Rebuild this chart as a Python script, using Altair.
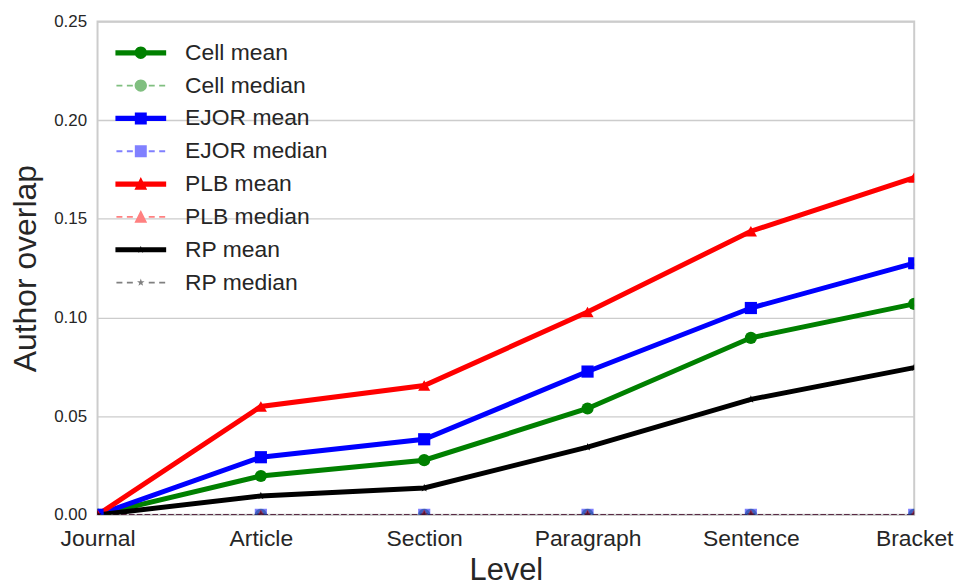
import math
import altair as alt
import pandas as pd

# ---------------- data ----------------
levels = ["Journal", "Article", "Section", "Paragraph", "Sentence", "Bracket"]

cell_mean = [0.0, 0.0197, 0.0277, 0.0539, 0.0897, 0.1069]
cell_median = [0.0, 0.0, 0.0, 0.0, 0.0, 0.0]
ejor_mean = [0.0, 0.0292, 0.0383, 0.0726, 0.1048, 0.1275]
ejor_median = [0.0, 0.0, 0.0, 0.0, 0.0, 0.0]
plb_mean = [0.0, 0.0549, 0.0655, 0.1028, 0.1437, 0.1709]
plb_median = [0.0, 0.0, 0.0, 0.0, 0.0, 0.0]
rp_mean = [0.0, 0.0096, 0.0136, 0.0343, 0.0585, 0.0746]
rp_median = [0.0, 0.0, 0.0, 0.0, 0.0, 0.0]

series_names = ["Cell mean", "Cell median", "EJOR mean", "EJOR median",
                "PLB mean", "PLB median", "RP mean", "RP median"]
series_values = [cell_mean, cell_median, ejor_mean, ejor_median,
                 plb_mean, plb_median, rp_mean, rp_median]

y_ticks = [0.0, 0.05, 0.10, 0.15, 0.20, 0.25]

# ---------------- styles ----------------
base_colors = {"Cell": "#008000", "EJOR": "#0000ff", "PLB": "#ff0000", "RP": "#000000"}
light_colors = {"Cell": "#80bf80", "EJOR": "#8080ff", "PLB": "#ff8080", "RP": "#808080"}
TXT = "#262626"
GRID = "#cccccc"


def star_path(r_out, r_in):
    pts = []
    for k in range(10):
        r = r_out if k % 2 == 0 else r_in
        a = -math.pi / 2 + k * math.pi / 5
        pts.append((r * math.cos(a), r * math.sin(a)))
    return "M" + " L".join(f"{x:.3f},{y:.3f}" for x, y in pts) + " Z"


def circle_path(r):
    return f"M{r},0 A{r},{r} 0 1,1 {-r},0 A{r},{r} 0 1,1 {r},0 Z"


def square_path(h):
    return f"M{-h},{-h} L{h},{-h} L{h},{h} L{-h},{h} Z"


def tri_path(h):
    return f"M0,{-h*1.1:.3f} L{h:.3f},{h*0.9:.3f} L{-h:.3f},{h*0.9:.3f} Z"


def rect(x0, x1, t):
    return f"M{x0},{-t} L{x1},{-t} L{x1},{t} L{x0},{t} Z"


marker_main = {"Cell": "circle", "EJOR": "square", "PLB": "triangle-up",
               "RP": star_path(0.7, 0.28)}
marker_leg = {"Cell": circle_path(0.62), "EJOR": square_path(0.6),
              "PLB": tri_path(0.64), "RP": star_path(0.4, 0.16)}


def legend_symbol(group, kind):
    if kind == "mean":
        line = rect(-2.55, 2.55, 0.26)
    else:
        line = " ".join([rect(-2.45, -1.85, 0.09), rect(-1.4, -0.8, 0.09),
                         rect(0.8, 1.4, 0.09), rect(1.85, 2.45, 0.09)])
    return line + " " + marker_leg[group]


groups = [s.split()[0] for s in series_names]
kinds = [s.split()[1] for s in series_names]

color_range = [base_colors[g] for g in groups]
shape_range = [marker_main[g] for g in groups]
leg_color_range = [base_colors[g] if k == "mean" else light_colors[g]
                   for g, k in zip(groups, kinds)]
leg_shape_range = [legend_symbol(g, k) for g, k in zip(groups, kinds)]

rows = []
for name, vals in zip(series_names, series_values):
    for lvl, v in zip(levels, vals):
        rows.append({"level": lvl, "series": name, "value": v,
                     "kind": name.split()[1]})
df = pd.DataFrame(rows)

x_enc = alt.X("level:N", sort=levels,
              scale=alt.Scale(type="point", padding=0),
              axis=alt.Axis(title="Level", labelAngle=0, labelFontSize=23,
                            titleFontSize=31, labelPadding=13, titlePadding=5,
                            ticks=False, domain=False, labelColor=TXT,
                            titleColor=TXT, titleFontWeight="normal",
                            gridColor=GRID, gridWidth=1.4))
y_enc = alt.Y("value:Q",
              scale=alt.Scale(domain=[0, 0.25], nice=False),
              axis=alt.Axis(title="Author overlap", values=y_ticks, format=".2f",
                            labelFontSize=17, titleFontSize=32, labelPadding=11,
                            titlePadding=11, ticks=False, domain=False,
                            labelColor=TXT, titleColor=TXT,
                            titleFontWeight="normal", gridColor=GRID,
                            gridWidth=1.4))
col_enc = alt.Color("series:N", scale=alt.Scale(domain=series_names, range=color_range),
                    legend=None)
shape_enc = alt.Shape("series:N", scale=alt.Scale(domain=series_names, range=shape_range),
                      legend=None)

median_df = df[df["kind"] == "median"]
mean_df = df[df["kind"] == "mean"]

median_lines = alt.Chart(median_df).mark_line(
    strokeDash=[5.5, 2.4], strokeWidth=1.5, opacity=0.5, clip=True
).encode(x=x_enc, y=y_enc, color=col_enc, detail="series:N")

median_points = alt.Chart(median_df).mark_point(
    filled=True, size=150, opacity=0.5, clip=True, strokeWidth=0
).encode(x=x_enc, y=y_enc, color=col_enc, shape=shape_enc)

mean_lines = alt.Chart(mean_df).mark_line(
    strokeWidth=5, opacity=1, clip=True
).encode(x=x_enc, y=y_enc, color=col_enc, detail="series:N")

mean_points = alt.Chart(mean_df).mark_point(
    filled=True, size=150, opacity=1, clip=True, strokeWidth=0
).encode(x=x_enc, y=y_enc, color=col_enc, shape=shape_enc)

legend_df = pd.DataFrame({"key": series_names})
legend_layer = alt.Chart(legend_df).mark_point(
    filled=True, size=400, opacity=1
).encode(
    color=alt.Color("key:N", scale=alt.Scale(domain=series_names, range=leg_color_range),
                    legend=alt.Legend(title=None, orient="none", legendX=32, legendY=20,
                                      labelFontSize=23, labelColor=TXT,
                                      symbolSize=400, symbolOpacity=1,
                                      symbolStrokeWidth=0, labelOffset=33,
                                      rowPadding=9, padding=0,
                                      labelFont="Liberation Sans")),
    shape=alt.Shape("key:N", scale=alt.Scale(domain=series_names, range=leg_shape_range)),
).transform_filter("false")

chart = alt.layer(
    median_lines, median_points, mean_lines, mean_points, legend_layer
).resolve_scale(
    color="independent", shape="independent"
).properties(
    width=821, height=496,
    autosize=alt.AutoSizeParams(type="none"),
    padding={"left": 90, "top": 12, "right": 40, "bottom": 70},
).configure(
    font="Liberation Sans",
).configure_view(
    stroke=GRID, strokeWidth=2,
)

chart.save("out.html", embed_options={"renderer": "svg", "actions": False})
